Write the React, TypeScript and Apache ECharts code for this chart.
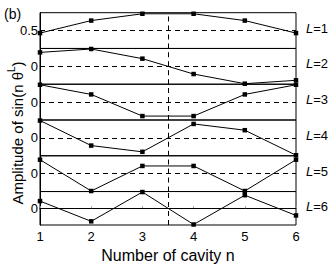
import React, { useEffect, useRef } from "react";
import * as echarts from "echarts";

const cavities = [1, 2, 3, 4, 5, 6];
const ampL1 = [0.43, 0.78, 0.97, 0.97, 0.78, 0.43];
const ampL2 = [0.78, 0.97, 0.43, -0.43, -0.97, -0.78];
const ampL3 = [0.97, 0.43, -0.78, -0.78, 0.43, 0.97];
const ampL4 = [0.97, -0.43, -0.78, 0.78, 0.43, -0.97];
const ampL5 = [0.78, -0.97, 0.43, 0.43, -0.97, 0.78];
const ampL6 = [0.43, -0.78, 0.97, -0.97, 0.78, -0.43];
const panelLabels = ["L=1", "L=2", "L=3", "L=4", "L=5", "L=6"];
const refLevels = [0.5, 0, 0, 0, 0, 0];
const yMins = [0, -1, -1, -1, -1, -1];
const yMaxs = [1, 1, 1, 1, 1, 1];
const yIntervals = [0.5, 1, 1, 1, 1, 1];
const yShownLabels = ["0.5", "0", "0", "0", "0", "0"];
const symmetryLine = 3.5;

const FONT = "'Liberation Sans', Arial, Helvetica, sans-serif";

export default function App() {
  const ref = useRef<HTMLDivElement>(null);
  useEffect(() => {
    if (!ref.current) return;
    const chart = echarts.init(ref.current, null, { renderer: "svg" });
    const allAmps = [ampL1, ampL2, ampL3, ampL4, ampL5, ampL6];
    const top0 = 12.7;
    const bottom0 = 227.3;
    const left = 40;
    const right = 296;
    const h = (bottom0 - top0) / 6;
    const grids: any[] = [];
    const xAxes: any[] = [];
    const yAxes: any[] = [];
    const series: any[] = [];
    const graphics: any[] = [];
    allAmps.forEach((amps, i) => {
      const isLast = i === 5;
      grids.push({
        left,
        width: right - left,
        top: top0 + i * h,
        height: h,
        show: true,
        borderColor: "#000",
        borderWidth: 1,
        backgroundColor: "transparent",
      });
      xAxes.push({
        type: "value",
        gridIndex: i,
        min: 1,
        max: 6,
        interval: 1,
        axisLine: { show: isLast, lineStyle: { color: "#000", width: 1 } },
        axisTick: {
          show: isLast,
          inside: true,
          length: 2,
          lineStyle: { color: "#999", width: 1 },
        },
        axisLabel: {
          show: isLast,
          color: "#000",
          fontSize: 13,
          fontFamily: FONT,
          margin: 5,
        },
        splitLine: { show: false },
        name: isLast ? "Number of cavity n" : "",
        nameLocation: "middle",
        nameGap: 22,
        nameTextStyle: { color: "#000", fontSize: 16, fontFamily: FONT },
      });
      const shown = yShownLabels[i];
      yAxes.push({
        type: "value",
        gridIndex: i,
        min: yMins[i],
        max: yMaxs[i],
        interval: yIntervals[i],
        axisLine: { show: true, lineStyle: { color: "#000", width: 1 } },
        axisTick: { show: false },
        axisLabel: {
          color: "#000",
          fontSize: 13,
          fontFamily: FONT,
          margin: 2,
          showMinLabel: true,
          showMaxLabel: true,
          formatter: (v: number) => (String(v) === shown ? shown : ""),
        },
        splitLine: { show: false },
      });
      series.push({
        type: "line",
        xAxisIndex: i,
        yAxisIndex: i,
        data: cavities.map((n, k) => [n, amps[k]]),
        symbol: "rect",
        symbolSize: 4.5,
        clip: false,
        lineStyle: { color: "#000", width: 1 },
        itemStyle: { color: "#000" },
        markLine: {
          silent: true,
          symbol: "none",
          label: { show: false },
          lineStyle: { color: "#000", width: 1, type: [5, 4] },
          data: [{ yAxis: refLevels[i] }, { xAxis: symmetryLine }],
        },
      });
      const parts = panelLabels[i].split("=");
      graphics.push({
        type: "text",
        left: 306,
        top: top0 + i * h + h / 2 - 9,
        style: {
          text: `{it|${parts[0]}}{n|=${parts[1]}}`,
          rich: {
            it: { fontStyle: "italic", fontSize: 13, fontFamily: FONT, fill: "#000" },
            n: { fontSize: 13, fontFamily: FONT, fill: "#000" },
          },
        },
      });
    });
    graphics.push({
      type: "text",
      left: 4,
      top: 7,
      style: { text: "(b)", fontSize: 14, fontFamily: FONT, fill: "#000" },
    });
    graphics.push({
      type: "text",
      x: 6,
      y: 133,
      rotation: Math.PI / 2,
      style: {
        text: "{m|Amplitude of sin(n θ}{s|L}{m|)}",
        align: "center",
        verticalAlign: "top",
        rich: {
          m: { fontSize: 15, fontFamily: FONT, fill: "#000", lineHeight: 19, verticalAlign: "bottom" },
          s: { fontSize: 10, fontFamily: FONT, fill: "#000", lineHeight: 19, verticalAlign: "top" },
        },
      },
    });
    chart.setOption({
      animation: false,
      grid: grids,
      xAxis: xAxes,
      yAxis: yAxes,
      series,
      graphic: graphics,
    });
    return () => chart.dispose();
  }, []);
  return (
    <div
      ref={ref}
      style={{ position: "fixed", left: 0, top: 0, width: 332, height: 264, background: "#fff" }}
    />
  );
}
